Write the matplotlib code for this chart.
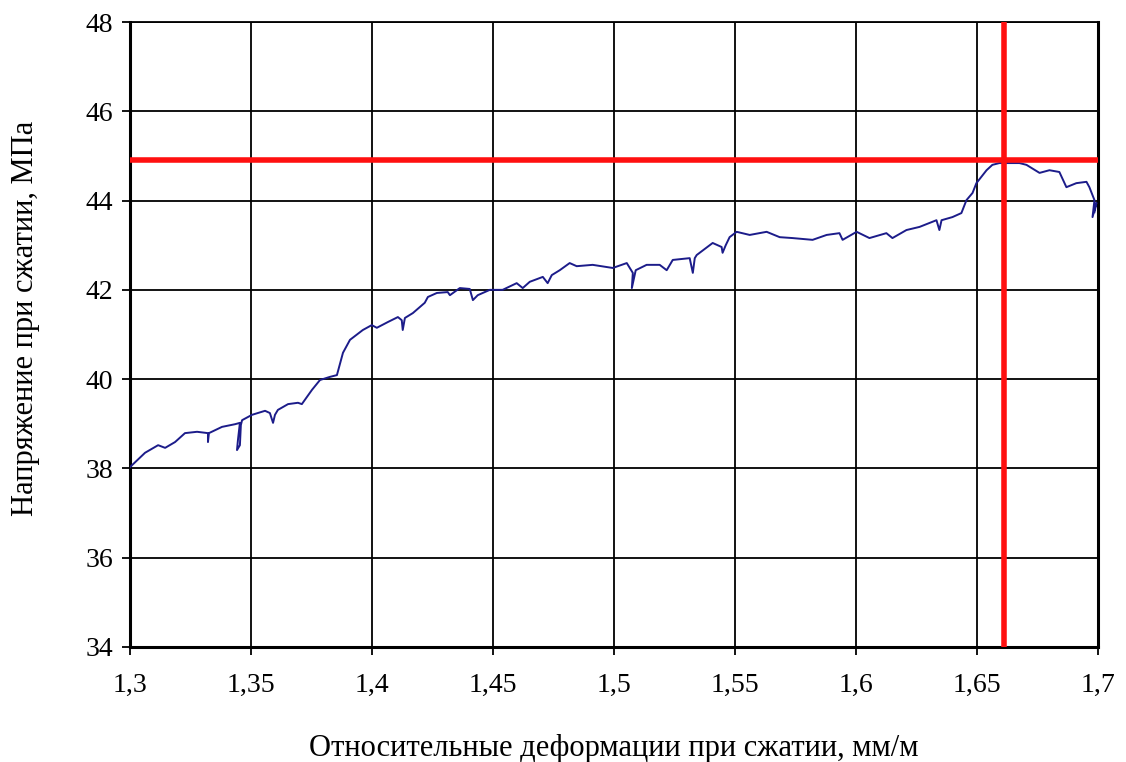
import matplotlib
matplotlib.use("Agg")
import matplotlib.pyplot as plt
import numpy as np

# strain (mm/m) and stress (MPa)
strain = [1.3000, 1.3062, 1.3116, 1.3145, 1.3186, 1.3227, 1.3277, 1.3322, 1.3322, 1.3326,
          1.3380, 1.3434, 1.3454, 1.3446, 1.3442, 1.3454, 1.3458, 1.3463, 1.3504, 1.3558,
          1.3578, 1.3591, 1.3599, 1.3611, 1.3653, 1.3694, 1.3710, 1.3752, 1.3785, 1.3826,
          1.3855, 1.3880, 1.3909, 1.3962, 1.3999, 1.4020, 1.4066, 1.4107, 1.4123, 1.4127,
          1.4136, 1.4169, 1.4218, 1.4231, 1.4268, 1.4313, 1.4322, 1.4363, 1.4404, 1.4417,
          1.4437, 1.4487, 1.4540, 1.4598, 1.4623, 1.4652, 1.4706, 1.4726, 1.4743, 1.4776,
          1.4817, 1.4846, 1.4912, 1.4995, 1.5053, 1.5078, 1.5074, 1.5090, 1.5135, 1.5189,
          1.5218, 1.5243, 1.5313, 1.5326, 1.5334, 1.5342, 1.5408, 1.5445, 1.5449, 1.5462,
          1.5478, 1.5507, 1.5561, 1.5631, 1.5685, 1.5738, 1.5821, 1.5879, 1.5932, 1.5945,
          1.6003, 1.6056, 1.6126, 1.6151, 1.6209, 1.6263, 1.6333, 1.6345, 1.6354, 1.6399,
          1.6436, 1.6449, 1.6457, 1.6482, 1.6498, 1.6540, 1.6564, 1.6593, 1.6676, 1.6705,
          1.6759, 1.6800, 1.6841, 1.6870, 1.6911, 1.6953, 1.6965, 1.6986, 1.6978, 1.6994,
          1.6986]
stress = [38.03, 38.35, 38.52, 38.46, 38.59, 38.79, 38.82, 38.79, 38.59, 38.79,
          38.93, 38.99, 39.02, 38.64, 38.41, 38.52, 38.97, 39.08, 39.20, 39.29,
          39.24, 39.02, 39.20, 39.31, 39.44, 39.47, 39.44, 39.76, 39.98, 40.05,
          40.09, 40.59, 40.88, 41.10, 41.21, 41.15, 41.28, 41.39, 41.32, 41.10,
          41.37, 41.48, 41.71, 41.84, 41.93, 41.95, 41.88, 42.04, 42.02, 41.77,
          41.88, 42.00, 42.00, 42.15, 42.04, 42.18, 42.29, 42.15, 42.33, 42.44,
          42.60, 42.53, 42.56, 42.49, 42.60, 42.38, 42.04, 42.44, 42.56, 42.56,
          42.44, 42.67, 42.71, 42.38, 42.71, 42.78, 43.05, 42.96, 42.83, 43.00,
          43.18, 43.30, 43.23, 43.30, 43.18, 43.16, 43.12, 43.23, 43.27, 43.12,
          43.30, 43.16, 43.27, 43.16, 43.34, 43.41, 43.56, 43.34, 43.56, 43.63,
          43.72, 43.90, 44.01, 44.17, 44.39, 44.68, 44.80, 44.84, 44.84, 44.80,
          44.62, 44.68, 44.64, 44.30, 44.39, 44.42, 44.30, 44.01, 43.63, 43.95,
          43.74]

peak_stress = 44.91
peak_strain = 1.6612

x_ticks = [1.3, 1.35, 1.4, 1.45, 1.5, 1.55, 1.6, 1.65, 1.7]
x_labels = ["1,3", "1,35", "1,4", "1,45", "1,5", "1,55", "1,6", "1,65", "1,7"]
y_ticks = [34, 36, 38, 40, 42, 44, 46, 48]

plt.rcParams["font.family"] = ["Liberation Serif", "DejaVu Serif"]

fig = plt.figure(figsize=(11.26, 7.62), dpi=100)
ax = fig.add_axes([0.1155, 0.151, 0.8595, 0.8201])

ax.plot(strain, stress, color="#1c1c8a", lw=1.4, zorder=3)
ax.axhline(peak_stress, color="#ff1010", lw=4, zorder=4)
ax.axvline(peak_strain, color="#ff1010", lw=4, zorder=4)

ax.set_xlim(1.3, 1.7)
ax.set_ylim(34, 48)
ax.set_xticks(x_ticks)
ax.set_xticklabels(x_labels)
ax.set_yticks(y_ticks)
ax.grid(True, color="black", lw=1.3)
ax.tick_params(direction="out", length=6, width=1.3, labelsize=20, pad=13)
ax.tick_params(axis="y", pad=6)
for s in ax.spines.values():
    s.set_linewidth(2.2)
ax.spines["top"].set_linewidth(1.3)

ax.set_xlabel("Относительные деформации при сжатии, мм/м", fontsize=22, labelpad=26)
ax.set_ylabel("Напряжение при сжатии, МПа", fontsize=22)
ax.yaxis.set_label_coords(-0.093, 0.526)

fig.savefig("out.png", dpi=100)
